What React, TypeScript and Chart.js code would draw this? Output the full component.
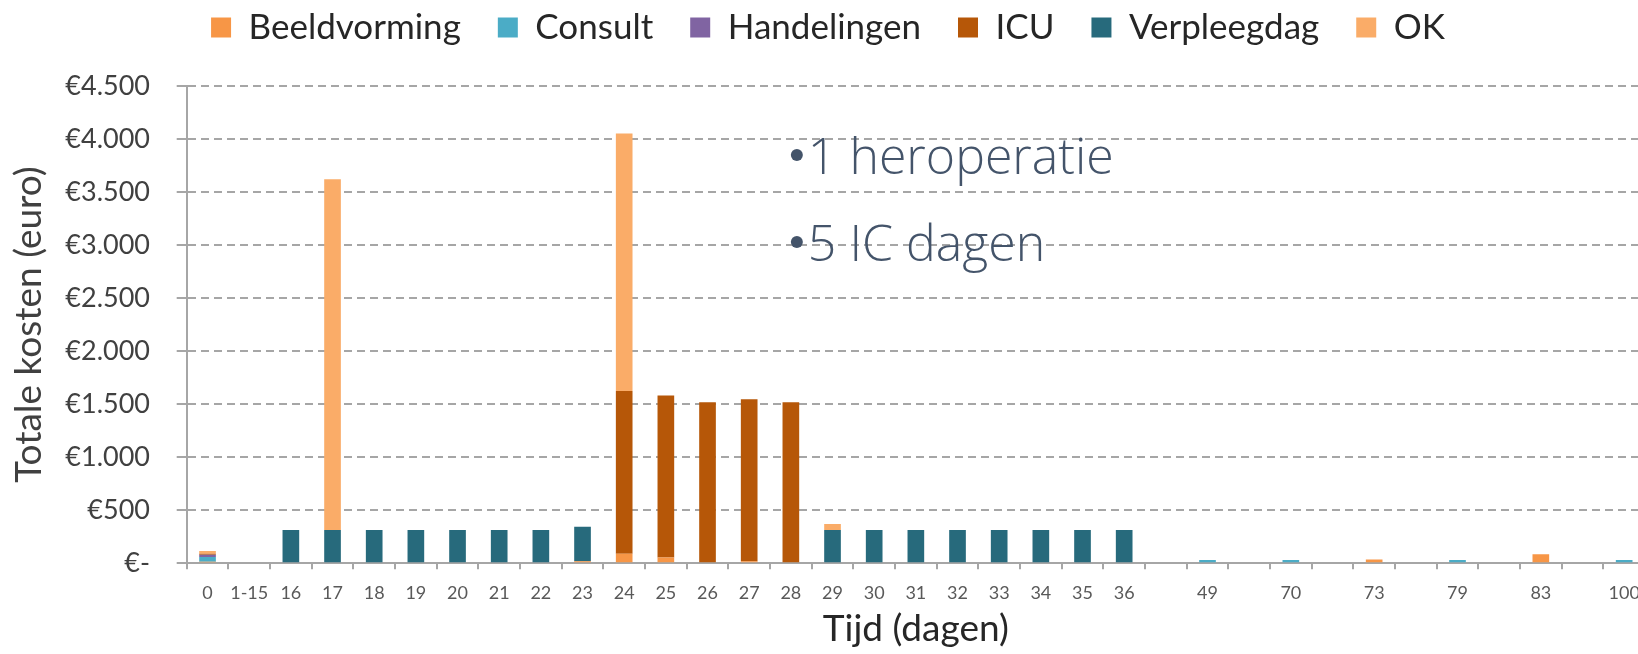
import React, { useEffect, useRef } from 'react';
import { Chart, registerables } from 'chart.js';

Chart.register(...registerables);

// Categories (days); blank entries are the unlabeled gaps on the axis
const categories = [
  '0', '1-15', '16', '17', '18', '19', '20', '21', '22', '23',
  '24', '25', '26', '27', '28', '29', '30', '31', '32', '33',
  '34', '35', '36', '', '49', '', '70', '', '73', '',
  '79', '', '83', '', '100',
];

const beeldvorming = [
  15, 0, 0, 0, 0, 0, 0, 0, 0, 20,
  90, 55, 0, 20, 0, 0, 0, 0, 0, 0,
  0, 0, 0, 0, 0, 0, 0, 0, 35, 0,
  0, 0, 85, 0, 0,
];
const consult = [
  45, 0, 0, 0, 0, 0, 0, 0, 0, 0,
  0, 0, 0, 0, 0, 0, 0, 0, 0, 0,
  0, 0, 0, 0, 30, 0, 30, 0, 0, 0,
  30, 0, 0, 0, 30,
];
const handelingen = [
  20, 0, 0, 0, 0, 0, 0, 0, 0, 0,
  0, 0, 0, 0, 0, 0, 0, 0, 0, 0,
  0, 0, 0, 0, 0, 0, 0, 0, 0, 0,
  0, 0, 0, 0, 0,
];
const icu = [
  10, 0, 0, 0, 0, 0, 0, 0, 0, 0,
  1535, 1526, 1519, 1527, 1519, 0, 0, 0, 0, 0,
  0, 0, 0, 0, 0, 0, 0, 0, 0, 0,
  0, 0, 0, 0, 0,
];
const verpleegdag = [
  0, 0, 315, 315, 315, 315, 315, 315, 315, 325,
  0, 0, 0, 0, 0, 315, 315, 315, 315, 315,
  315, 315, 315, 0, 0, 0, 0, 0, 0, 0,
  0, 0, 0, 0, 0,
];
const ok = [
  25, 0, 0, 3305, 0, 0, 0, 0, 0, 0,
  2428, 0, 0, 0, 0, 56, 0, 0, 0, 0,
  0, 0, 0, 0, 0, 0, 0, 0, 0, 0,
  0, 0, 0, 0, 0,
];

const seriesLabels = ['Beeldvorming', 'Consult', 'Handelingen', 'ICU', 'Verpleegdag', 'OK'];
const seriesColors = ['#F79646', '#4BACC6', '#8064A2', '#B65708', '#276A7C', '#FAAC68'];
const seriesData = [beeldvorming, consult, handelingen, icu, verpleegdag, ok];

const yTickValues = [0, 500, 1000, 1500, 2000, 2500, 3000, 3500, 4000, 4500];
const yTickLabels = ['€-', '€500', '€1.000', '€1.500', '€2.000', '€2.500', '€3.000', '€3.500', '€4.000', '€4.500'];

const annotationLines = ['1 heroperatie', '5 IC dagen'];
const annotationValues = [3670, 2850];
const annotationAnchorIndex = 14;

const annotationPlugin = {
  id: 'slideText',
  afterDraw(chart: any) {
    const ctx = chart.ctx;
    const xs = chart.scales.x;
    const ys = chart.scales.y;
    const x0 = xs.getPixelForValue(annotationAnchorIndex);
    ctx.save();
    ctx.font = '300 50px "Open Sans"';
    ctx.fillStyle = '#44546A';
    ctx.textBaseline = 'alphabetic';
    ctx.textAlign = 'left';
    annotationLines.forEach((t, i) => {
      const y = ys.getPixelForValue(annotationValues[i]);
      ctx.beginPath();
      ctx.arc(x0 + 6, y - 19, 6, 0, Math.PI * 2);
      ctx.fill();
      ctx.fillText(t, x0 + 17, y);
    });
    ctx.restore();
  },
};

export default function App() {
  const ref = useRef<HTMLCanvasElement>(null);
  useEffect(() => {
    if (!ref.current) return;
    const chart = new Chart(ref.current, {
      type: 'bar',
      data: {
        labels: categories,
        datasets: seriesLabels.map((label, i) => ({
          label,
          data: seriesData[i],
          backgroundColor: seriesColors[i],
          borderWidth: 0,
          barPercentage: 0.4,
          categoryPercentage: 1,
        })),
      },
      options: {
        responsive: false,
        animation: false,
        devicePixelRatio: 1,
        layout: { padding: { left: 11, right: 12, top: 0, bottom: 0 } },
        plugins: {
          legend: {
            position: 'top',
            labels: {
              boxWidth: 20,
              boxHeight: 20,
              padding: 37,
              color: '#262626',
              font: { family: 'Lato', size: 35 },
            },
          },
          title: {
            display: true,
            text: '',
            weight: 500,
            padding: { top: 0, bottom: 29.8 },
            font: { size: 1 },
          },
          tooltip: { enabled: false },
        },
        scales: {
          x: {
            stacked: true,
            grid: {
              display: true,
              drawOnChartArea: false,
              drawTicks: true,
              tickLength: 6,
              color: '#a6a6a6',
              lineWidth: 2,
              offset: true,
            },
            border: { display: true, color: '#a6a6a6', width: 2 },
            ticks: {
              autoSkip: false,
              maxRotation: 0,
              minRotation: 0,
              padding: 13,
              color: '#595959',
              font: { family: 'Lato', size: 18 },
            },
            title: {
              display: true,
              text: 'Tijd (dagen)',
              color: '#262626',
              font: { family: 'Lato', size: 37 },
              padding: { top: 0, bottom: 2.8 },
            },
            afterFit: (s: any) => {
              s.height = 90.7;
              s.paddingLeft = 0;
              s.paddingRight = 0;
            },
          },
          y: {
            stacked: true,
            min: 0,
            max: 4500,
            afterBuildTicks: (s: any) => {
              s.ticks = yTickValues.map((v) => ({ value: v }));
            },
            ticks: {
              padding: 26.7,
              color: '#404040',
              font: { family: 'Lato', size: 27 },
              callback: (v: any) => {
                const idx = yTickValues.indexOf(Number(v));
                return idx >= 0 ? yTickLabels[idx] : '';
              },
            },
            grid: {
              color: '#a6a6a6',
              lineWidth: 2,
              tickLength: 10,
              drawTicks: true,
            },
            border: { display: true, color: '#a6a6a6', width: 2, dash: [8, 5] },
            title: {
              display: true,
              text: 'Totale kosten (euro)',
              color: '#404040',
              font: { family: 'Lato', size: 37, lineHeight: 1 },
              padding: { top: 0, bottom: 0 },
            },
            afterFit: (s: any) => {
              s.width = 175.7;
            },
          },
        },
      } as any,
      plugins: [annotationPlugin],
    });
    return () => chart.destroy();
  }, []);

  return (
    <div
      style={{
        position: 'fixed',
        left: 0,
        top: 0,
        width: 1638,
        height: 654,
        overflow: 'hidden',
        background: '#ffffff',
      }}
    >
      <canvas
        ref={ref}
        width={1657}
        height={681}
        style={{ position: 'absolute', left: 0, top: -27, width: 1657, height: 681 }}
      />
    </div>
  );
}
